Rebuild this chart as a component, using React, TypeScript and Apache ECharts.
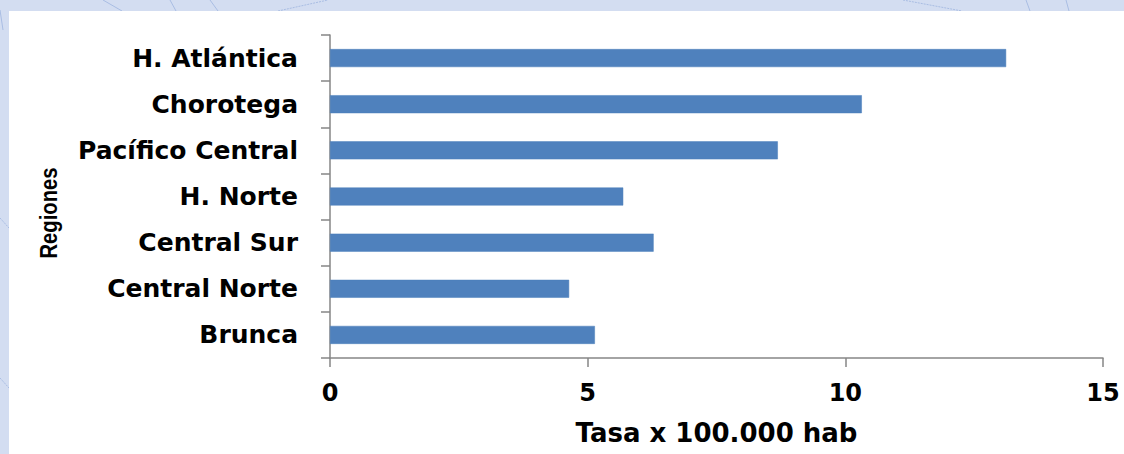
import React, { useEffect, useRef } from "react";
import * as echarts from "echarts";

const categories = [
  "Brunca",
  "Central Norte",
  "Central Sur",
  "H. Norte",
  "Pacífico Central",
  "Chorotega",
  "H. Atlántica",
];
const tasaValues = [5.14, 4.64, 6.28, 5.69, 8.69, 10.32, 13.12];
const xTicks = [0, 5, 10, 15];
const xAxisTitle = "Tasa x 100.000 hab";
const yAxisTitle = "Regiones";

export default function App() {
  const ref = useRef<HTMLDivElement>(null);
  useEffect(() => {
    if (!ref.current) return;
    const chart = echarts.init(ref.current, undefined, { renderer: "svg" });
    const deco = "#a9bde3";
    const line = (x1: number, y1: number, x2: number, y2: number, dashed = false) => ({
      type: "line",
      z: -50,
      silent: true,
      shape: { x1, y1, x2, y2 },
      style: { stroke: deco, lineWidth: 1, lineDash: dashed ? [2, 1] : undefined },
    });
    chart.setOption({
      animation: false,
      backgroundColor: "#d3ddf1",
      graphic: {
        elements: [
          line(103, 0, 122, 11),
          line(170, 0, 176, 11),
          line(210, 0, 218, 11),
          line(278, 11, 328, 0, true),
          line(903, 0, 962, 11, true),
          line(1026, 0, 1030, 11),
          line(1066, 0, 1069, 11),
          line(0, 218, 9, 228, true),
          line(0, 378, 9, 388, true),
          line(0, 10, 3, 30),
          {
            type: "rect",
            z: -40,
            silent: true,
            shape: { x: 9, y: 11, width: 1115, height: 443 },
            style: { fill: "#ffffff" },
          },
          {
            type: "text",
            x: 49,
            y: 213,
            rotation: Math.PI / 2,
            scaleX: 0.92,
            scaleY: 1.05,
            style: {
              text: yAxisTitle,
              font: "bold 22px 'Liberation Sans'",
              fill: "#000",
              align: "center",
              verticalAlign: "middle",
            },
          },
        ],
      },
      grid: { left: 330, right: 21, top: 35, bottom: 96, containLabel: false },
      xAxis: {
        type: "value",
        min: xTicks[0],
        max: xTicks[xTicks.length - 1],
        interval: 5,
        splitLine: { show: false },
        axisLine: { show: true, lineStyle: { color: "#868686", width: 1.5 } },
        axisTick: { show: true, length: 9, lineStyle: { color: "#868686", width: 1.5 } },
        axisLabel: {
          margin: 23,
          color: "#000",
          fontFamily: "DejaVu Sans",
          fontWeight: "bold",
          fontSize: 24,
        },
        name: xAxisTitle,
        nameLocation: "middle",
        nameGap: 62,
        nameTextStyle: {
          color: "#000",
          fontFamily: "DejaVu Sans",
          fontWeight: "bold",
          fontSize: 26,
        },
      },
      yAxis: {
        type: "category",
        data: categories,
        axisLine: { show: true, lineStyle: { color: "#868686", width: 1.5 } },
        axisTick: { show: true, length: 9, lineStyle: { color: "#868686", width: 1.5 } },
        axisLabel: {
          margin: 32,
          color: "#000",
          fontFamily: "DejaVu Sans",
          fontWeight: "bold",
          fontSize: 25,
        },
      },
      series: [
        {
          type: "bar",
          data: tasaValues,
          barWidth: 18,
          itemStyle: { color: "#4f81bd", borderColor: "#4a7ebb", borderWidth: 0.5 },
        },
      ],
    });
    return () => chart.dispose();
  }, []);
  return (
    <div
      ref={ref}
      style={{ position: "absolute", left: 0, top: 0, width: 1124, height: 454 }}
    />
  );
}
